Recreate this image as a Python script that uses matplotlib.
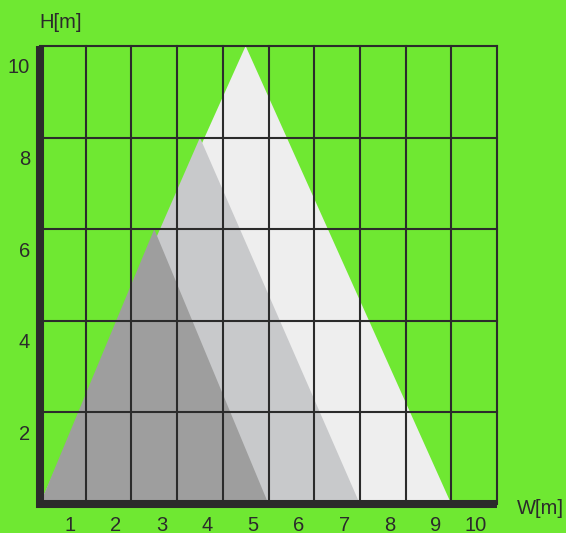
import matplotlib.pyplot as plt

# triangles: base width, height (apex at the middle of the base)
widths = [9, 7, 5]
heights = [10, 8, 6]
colors = ["#eeeeee", "#c8c9cb", "#9e9e9e"]

x_ticks = [1, 2, 3, 4, 5, 6, 7, 8, 9, 10]
y_ticks = [2, 4, 6, 8, 10]

bg = "#6fe832"
ink = "#2b2b2b"

plt.rcParams["font.family"] = ["Liberation Sans", "DejaVu Sans"]

fig = plt.figure(figsize=(5.66, 5.33), dpi=100, facecolor=bg)
ax = fig.add_axes([40 / 566, 29 / 533, 457 / 566, 458 / 533])
ax.set_facecolor(bg)
ax.set_xlim(0, 10)
ax.set_ylim(0, 10)
for s in ax.spines.values():
    s.set_visible(False)
ax.set_xticks([])
ax.set_yticks([])

for w, h, c in zip(widths, heights, colors):
    ax.fill([0, w / 2, w], [0, h, 0], color=c, lw=0, zorder=1)

# grid on top of the triangles
for x in x_ticks:
    ax.plot([x, x], [0, 10], color=ink, lw=1.5, zorder=2, clip_on=False)
for y in y_ticks:
    ax.plot([0, 10], [y, y], color=ink, lw=1.5, zorder=2, clip_on=False)

# thick axes
ax.plot([0, 0, 10], [10, 0, 0], color=ink, lw=5.8, zorder=3,
        solid_joinstyle="miter", solid_capstyle="butt", clip_on=False)

for x in x_ticks:
    ax.text(x - 0.22, -0.6, str(x), ha="right", va="baseline",
            fontsize=14.5, color=ink)
for y in y_ticks:
    ax.text(-0.22, y - 0.48, str(y), ha="right", va="center",
            fontsize=14.5, color=ink)

fig.text(61 / 566, 1 - 22 / 533, "H[m]", ha="center", va="center",
         fontsize=14.5, color=ink)
fig.text(540 / 566, 1 - 508 / 533, "W[m]", ha="center", va="center",
         fontsize=14.5, color=ink)

fig.savefig("out.png", dpi=100, facecolor=bg)
